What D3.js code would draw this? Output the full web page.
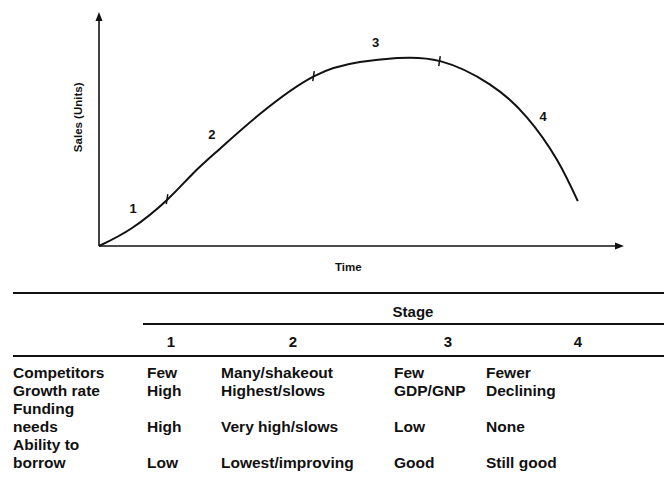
<!DOCTYPE html>
<html>
<head>
<script src="https://d3js.org/d3.v7.min.js"></script>
<style>
body { margin: 0; background: #fff; }
svg text { font-family: "Liberation Sans", Arial, sans-serif; font-weight: bold; fill: #111; }
</style>
</head>
<body>
<svg id="chart" width="664" height="492"></svg>
<script>
// product life cycle curve (time and sales in arbitrary units 0-100)
const timeVals  = [0, 6.3, 13.1, 17.9, 23, 30.7, 41, 49.7, 56.8, 65, 74.5, 81.5, 87.2, 91.2]
const salesVals = [0, 7.7, 20, 31, 41.5, 56.5, 72.6, 78.6, 80.3, 79, 69, 55, 37, 19.2]

// stage boundaries on the curve (tick marks)
const boundTime  = [13.1, 41, 65]
const boundSales = [20, 72.6, 79]

// stage number labels along the curve
const stageNames = ["1", "2", "3", "4"]
const stageLabelTime  = [6.5, 21.5, 52.7, 84.6]
const stageLabelSales = [15.5, 47, 86.5, 55]

// table
const stageCols = ["1", "2", "3", "4"]
const rowLabels = [["Competitors"], ["Growth rate"], ["Funding", "needs"], ["Ability to", "borrow"]]
const stage1 = ["Few", "High", "High", "Low"]
const stage2 = ["Many/shakeout", "Highest/slows", "Very high/slows", "Lowest/improving"]
const stage3 = ["Few", "GDP/GNP", "Low", "Good"]
const stage4 = ["Fewer", "Declining", "None", "Still good"]

const svg = d3.select("#chart")

const x = d3.scaleLinear().domain([0, 100]).range([99, 624])
const y = d3.scaleLinear().domain([0, 100]).range([246, 12])

// axes with arrow heads
svg.append("line")
    .attr("x1", x(0)).attr("y1", y(0)).attr("x2", x(0)).attr("y2", y(97))
    .attr("stroke", "#111").attr("stroke-width", 1.6)
svg.append("line")
    .attr("x1", x(0)).attr("y1", y(0)).attr("x2", x(98.5)).attr("y2", y(0))
    .attr("stroke", "#111").attr("stroke-width", 1.4)
svg.append("path")
    .attr("d", `M${x(0)},${y(100)} l-3.5,9 l7,0 z`)
    .attr("fill", "#111")
svg.append("path")
    .attr("d", `M${x(100)},${y(0)} l-9,-3.5 l0,7 z`)
    .attr("fill", "#111")

svg.append("text")
    .attr("transform", `translate(82,${y(55)}) rotate(-90)`)
    .attr("text-anchor", "middle")
    .attr("font-size", 11.5)
    .text("Sales (Units)")

svg.append("text")
    .attr("x", x(47.5)).attr("y", 271)
    .attr("text-anchor", "middle")
    .attr("font-size", 11.5)
    .text("Time")

// the curve
const pts = timeVals.map((t, i) => [t, salesVals[i]])
const line = d3.line()
    .x(d => x(d[0]))
    .y(d => y(d[1]))
    .curve(d3.curveNatural)

svg.append("path")
    .datum(pts)
    .attr("d", line)
    .attr("fill", "none")
    .attr("stroke", "#111")
    .attr("stroke-width", 2)

svg.selectAll(".bound")
    .data(boundTime)
    .enter()
    .append("line")
    .attr("x1", d => x(d)).attr("x2", (d, i) => x(d) - 1.5)
    .attr("y1", (d, i) => y(boundSales[i]) - 5)
    .attr("y2", (d, i) => y(boundSales[i]) + 5)
    .attr("stroke", "#111").attr("stroke-width", 1.5)

svg.selectAll(".stageNum")
    .data(stageNames)
    .enter()
    .append("text")
    .attr("x", (d, i) => x(stageLabelTime[i]))
    .attr("y", (d, i) => y(stageLabelSales[i]))
    .attr("text-anchor", "middle")
    .attr("dominant-baseline", "middle")
    .attr("font-size", 13)
    .text(d => d)

// table
const tableLeft = 13
const colX = [147, 221, 394, 486]
const headX = [171, 293, 448, 578]
const lineW = 2

svg.append("line").attr("x1", tableLeft).attr("x2", 664).attr("y1", 293).attr("y2", 293)
    .attr("stroke", "#111").attr("stroke-width", lineW)
svg.append("line").attr("x1", 143).attr("x2", 664).attr("y1", 324).attr("y2", 324)
    .attr("stroke", "#111").attr("stroke-width", lineW)
svg.append("line").attr("x1", tableLeft).attr("x2", 664).attr("y1", 356).attr("y2", 356)
    .attr("stroke", "#111").attr("stroke-width", lineW)

svg.append("text")
    .attr("x", 413).attr("y", 317)
    .attr("text-anchor", "middle")
    .attr("font-size", 15)
    .text("Stage")

svg.selectAll(".colHead")
    .data(stageCols)
    .enter()
    .append("text")
    .attr("x", (d, i) => headX[i]).attr("y", 347)
    .attr("text-anchor", "middle")
    .attr("font-size", 15)
    .text(d => d)

const rowH = 18
const cols = [stage1, stage2, stage3, stage4]
let lineIdx = 0
rowLabels.forEach((lab, r) => {
    lab.forEach((s, k) => {
        svg.append("text")
            .attr("x", tableLeft).attr("y", 378 + (lineIdx + k) * rowH)
            .attr("font-size", 15.5)
            .text(s)
    })
    const valLine = lineIdx + lab.length - 1
    cols.forEach((c, j) => {
        svg.append("text")
            .attr("x", colX[j]).attr("y", 378 + valLine * rowH)
            .attr("font-size", 15.5)
            .text(c[r])
    })
    lineIdx += lab.length
})
</script>
</body>
</html>
